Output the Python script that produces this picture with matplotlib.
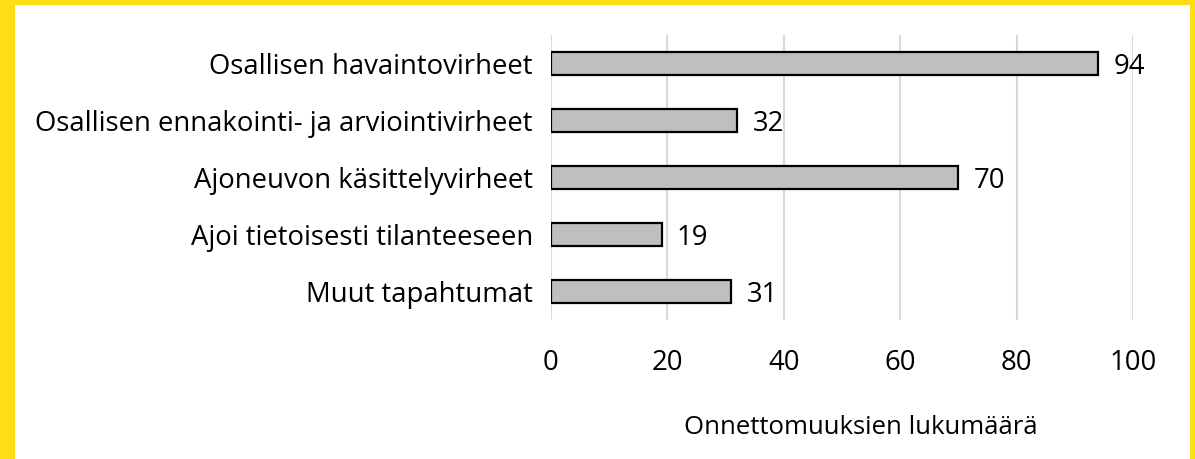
import matplotlib.pyplot as plt
import matplotlib.patches as patches

# data
categories = ["Osallisen havaintovirheet",
              "Osallisen ennakointi- ja arviointivirheet",
              "Ajoneuvon käsittelyvirheet",
              "Ajoi tietoisesti tilanteeseen",
              "Muut tapahtumat"]
counts = [94, 32, 70, 19, 31]
xticks = [0, 20, 40, 60, 80, 100]
xlabel = "Onnettomuuksien lukumäärä"

plt.rcParams['font.family'] = ['Open Sans', 'DejaVu Sans']
fs = 19.8

W, H = 1195, 459
fig = plt.figure(figsize=(W / 100, H / 100), dpi=100)

# yellow frame (left 15px, top 5px, right 5px)
fig.patches.append(patches.Rectangle((0, 0), 1, 1, transform=fig.transFigure,
                                     facecolor='#fddd16', edgecolor='none', zorder=-2))
fig.patches.append(patches.Rectangle((15 / W, 0), (W - 20) / W, (H - 5) / H,
                                     transform=fig.transFigure,
                                     facecolor='white', edgecolor='none', zorder=-1))

x0, x1 = 551, 1133
y0, y1 = 35, 320
ax = fig.add_axes([x0 / W, 1 - y1 / H, (x1 - x0) / W, (y1 - y0) / H])
ax.set_facecolor('none')

ypos = list(range(len(categories)))
ax.barh(ypos, counts, height=0.39, color='#bfbfbf', edgecolor='black',
        linewidth=1.6, zorder=3)
for y, v in zip(ypos, counts):
    ax.text(v + 2.6, y + 0.06, str(v), va='center', ha='left', fontsize=fs, color='black', zorder=4)

ax.set_ylim(len(categories) - 0.5, -0.5)
ax.set_xlim(0, 100)
ax.set_yticks(ypos)
ax.set_yticklabels(categories, fontsize=fs)
ax.set_xticks(xticks)
ax.set_xticklabels([str(t) for t in xticks], fontsize=fs)
ax.tick_params(axis='both', length=0)
ax.tick_params(axis='x', pad=21)
ax.tick_params(axis='y', pad=13)
ax.grid(axis='x', color='#d9d9d9', linewidth=1.5, zorder=0)
for s in ax.spines.values():
    s.set_visible(False)

# axis title sits a bit right of the axes centre in the original
fig.text(861 / W, 1 - 427 / H, xlabel, ha='center', va='center', fontsize=18.5)

fig.savefig('out.png', dpi=100)
